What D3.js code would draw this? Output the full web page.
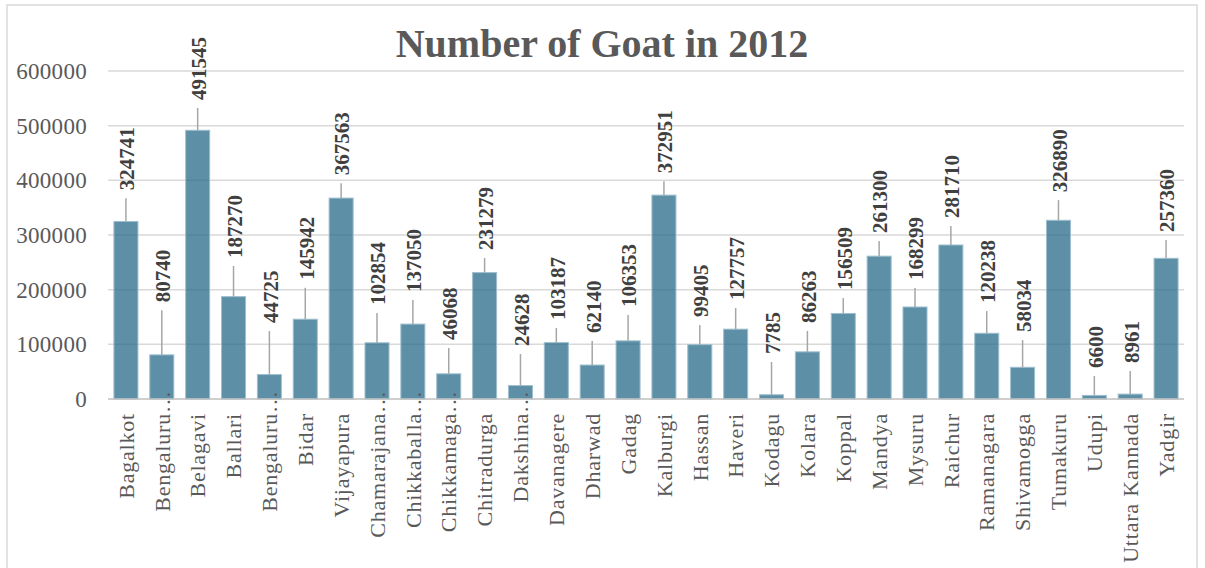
<!DOCTYPE html>
<html>
<head>
<meta charset="utf-8">
<script src="https://cdn.jsdelivr.net/npm/d3@7"></script>
<style>
  html, body { margin: 0; padding: 0; background: #fff; }
  svg { display: block; }
</style>
</head>
<body>
<svg id="chart" width="1205" height="568"></svg>
<script>
// ---- data ----
const districts = ["Bagalkot","Bengaluru…","Belagavi","Ballari","Bengaluru…","Bidar","Vijayapura","Chamarajana…","Chikkaballa…","Chikkamaga…","Chitradurga","Dakshina…","Davanagere","Dharwad","Gadag","Kalburgi","Hassan","Haveri","Kodagu","Kolara","Koppal","Mandya","Mysuru","Raichur","Ramanagara","Shivamogga","Tumakuru","Udupi","Uttara Kannada","Yadgir"];
const goats = [324741,80740,491545,187270,44725,145942,367563,102854,137050,46068,231279,24628,103187,62140,106353,372951,99405,127757,7785,86263,156509,261300,168299,281710,120238,58034,326890,6600,8961,257360];
// value level (in data units) at which each data label starts (Excel's manual label placement)
const labelAt = [382000,177000,547000,258000,139000,218000,409500,172000,195600,108000,272400,96900,144400,120700,168200,413000,149900,181000,82300,139000,199300,303500,217600,330900,175500,122500,378400,56700,65800,305300];
const yTicks = [0,100000,200000,300000,400000,500000,600000];
const title = "Number of Goat in 2012";

(function () {
// ---- layout ----
const svg = d3.select("#chart");
const pLeft = 108, pRight = 1184, pTop = 71, pBottom = 399;
const serif = "'Liberation Serif','Times New Roman',serif";

svg.append("rect").attr("x", 7).attr("y", 5).attr("width", 1190).attr("height", 580)
  .attr("fill", "#fff").attr("stroke", "#d9d9d9").attr("stroke-width", 1.5);

const x = d3.scaleBand().domain(d3.range(districts.length)).range([pLeft, pRight])
  .paddingInner(0.33).paddingOuter(0.165);
const y = d3.scaleLinear().domain([0, 600000]).range([pBottom, pTop]);

// gridlines
svg.append("g").selectAll("line").data(yTicks.filter(d => d > 0)).join("line")
  .attr("x1", pLeft).attr("x2", pRight)
  .attr("y1", d => y(d)).attr("y2", d => y(d))
  .attr("stroke", "#d9d9d9").attr("stroke-width", 1.5);

// y tick labels
svg.append("g").selectAll("text").data(yTicks).join("text")
  .attr("x", pLeft - 21).attr("y", d => y(d)).attr("dy", "0.35em")
  .attr("text-anchor", "end")
  .attr("font-family", serif).attr("font-size", 23).attr("letter-spacing", 0.3)
  .attr("fill", "#595959")
  .text(d => d);

// bars
svg.append("g").selectAll("rect").data(goats).join("rect")
  .attr("x", (d, i) => x(i)).attr("width", x.bandwidth())
  .attr("y", d => y(d)).attr("height", d => pBottom - y(d))
  .attr("fill", "#276b8a").attr("fill-opacity", 0.75)
  .attr("stroke", "#9fbfcf").attr("stroke-width", 1);

// axis line
svg.append("line").attr("x1", pLeft).attr("x2", pRight).attr("y1", pBottom).attr("y2", pBottom)
  .attr("stroke", "#bfbfbf").attr("stroke-width", 1.5);

// leader lines
svg.append("g").selectAll("line").data(goats).join("line")
  .attr("x1", (d, i) => x(i) + x.bandwidth() / 2)
  .attr("x2", (d, i) => x(i) + x.bandwidth() / 2)
  .attr("y1", d => y(d))
  .attr("y2", (d, i) => y(labelAt[i]) + 8)
  .attr("stroke", "#a6a6a6").attr("stroke-width", 1.5);

// data labels
svg.append("g").selectAll("text").data(goats).join("text")
  .attr("transform", (d, i) => `translate(${x(i) + x.bandwidth() / 2 + 1},${y(labelAt[i])}) rotate(-90)`)
  .attr("dy", "0.35em")
  .attr("text-anchor", "start")
  .attr("font-family", serif).attr("font-size", 21).attr("font-weight", "bold")
  .attr("fill", "#404040")
  .text(d => d);

// category labels
const cat = svg.append("g").selectAll("text").data(districts).join("text")
  .attr("font-family", serif).attr("font-size", 22).attr("letter-spacing", 0.8)
  .attr("fill", "#595959")
  .attr("text-anchor", "end")
  .attr("dy", "0.35em")
  .text(d => d);
cat.each(function(d, i) {
  let shift = 0;
  if (d.endsWith("…")) {
    const n = this.getNumberOfChars();
    shift = this.getSubStringLength(n - 1, 1);
  }
  d3.select(this).attr("transform", `translate(${x(i) + x.bandwidth() / 2},${413 - shift}) rotate(-90)`);
});

// title
svg.append("text").attr("x", 602).attr("y", 57).attr("text-anchor", "middle")
  .attr("font-family", serif).attr("font-size", 40).attr("font-weight", "bold")
  .attr("fill", "#595959")
  .text(title);
})();
</script>
</body>
</html>
